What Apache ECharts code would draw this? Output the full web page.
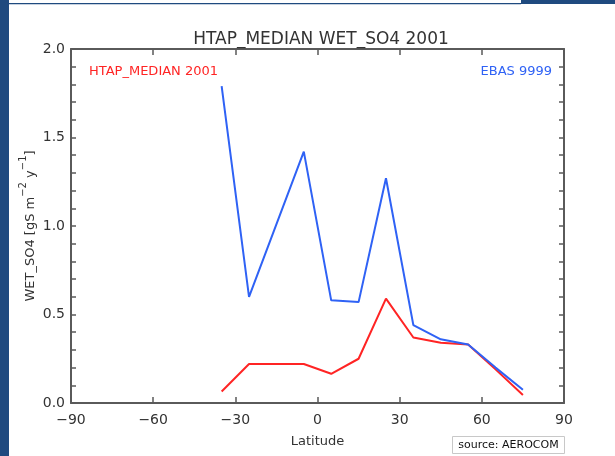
<!DOCTYPE html>
<html>
<head>
<meta charset="utf-8">
<script src="https://cdn.jsdelivr.net/npm/echarts@6/dist/echarts.min.js"></script>
<style>
  html, body { margin: 0; padding: 0; background: #fff; }
  #chart { width: 615px; height: 456px; }
</style>
</head>
<body>
<div id="chart"></div>
<script>
// Latitude band centres (degrees)
const latitudes = [-35, -25, -5, 5, 15, 25, 35, 45, 55, 65, 75];
// Wet SO4 deposition, gS m-2 y-1
const htapMedian = [0.065, 0.22, 0.22, 0.165, 0.25, 0.59, 0.37, 0.34, 0.33, 0.19, 0.045];
const ebas = [1.79, 0.60, 1.42, 0.58, 0.57, 1.27, 0.44, 0.36, 0.33, 0.20, 0.075];
// Axis tick values
const xTicks = [-90, -60, -30, 0, 30, 60, 90];
const yTicks = [0.0, 0.5, 1.0, 1.5, 2.0];

const seriesNames = ['HTAP_MEDIAN 2001', 'EBAS 9999'];
const RED = '#ff2424';
const BLUE = '#2f62f5';
const AXIS = '#5a5a5a';
const TEXT = '#333333';
const FONT = 'DejaVu Sans';

const pairs = vals => latitudes.map((lat, i) => [lat, vals[i]]);

const chart = echarts.init(document.getElementById('chart'), null, { renderer: 'canvas' });

const xBase = {
  type: 'value',
  min: xTicks[0],
  max: xTicks[xTicks.length - 1],
  interval: xTicks[1] - xTicks[0],
  axisLine: { show: true, onZero: false, lineStyle: { color: AXIS, width: 2 } },
  axisTick: { show: true, inside: true, length: 6, lineStyle: { color: AXIS, width: 1.5 } },
  splitLine: { show: false }
};
const yBase = {
  type: 'value',
  min: yTicks[0],
  max: yTicks[yTicks.length - 1],
  interval: yTicks[1] - yTicks[0],
  axisLine: { show: true, onZero: false, lineStyle: { color: AXIS, width: 2 } },
  axisTick: { show: true, inside: true, length: 5, lineStyle: { color: AXIS, width: 1.5 } },
  minorTick: { show: true, splitNumber: 5, length: 5, lineStyle: { color: AXIS, width: 1.5 } },
  splitLine: { show: false },
  minorSplitLine: { show: false }
};

chart.setOption({
  animation: false,
  backgroundColor: '#ffffff',
  textStyle: { fontFamily: FONT },
  title: {
    text: 'HTAP_MEDIAN WET_SO4 2001',
    left: 316,
    top: 26,
    textAlign: 'center',
    textStyle: { fontFamily: FONT, fontSize: 17, fontWeight: 'normal', color: TEXT }
  },
  legend: [
    {
      data: [{ name: seriesNames[0], textStyle: { color: RED } }],
      icon: 'none', itemWidth: 0, itemGap: 0,
      left: 79, top: 60,
      textStyle: { fontFamily: FONT, fontSize: 13 }
    },
    {
      data: [{ name: seriesNames[1], textStyle: { color: BLUE } }],
      icon: 'none', itemWidth: 0, itemGap: 0,
      right: 58, top: 60,
      textStyle: { fontFamily: FONT, fontSize: 13 }
    }
  ],
  grid: { left: 71, right: 51, top: 49, bottom: 53, containLabel: false },
  xAxis: [
    Object.assign({}, xBase, {
      position: 'bottom',
      name: 'Latitude',
      nameLocation: 'middle',
      nameGap: 32,
      nameMoveOverlap: false,
      nameTextStyle: { fontFamily: FONT, fontSize: 13, color: TEXT },
      axisLabel: {
        margin: 10,
        fontFamily: FONT, fontSize: 14, color: TEXT,
        formatter: v => String(v).replace('-', '\u2212')
      }
    }),
    Object.assign({}, xBase, { position: 'top', axisLabel: { show: false } })
  ],
  yAxis: [
    Object.assign({}, yBase, {
      position: 'left',
      name: '{n|WET_SO4 [gS m}{sup|\u22122}{n| y}{sup|\u22121}{n|]}',
      nameLocation: 'middle',
      nameRotate: 90,
      nameGap: 34,
      nameMoveOverlap: false,
      nameTextStyle: {
        fontFamily: FONT, fontSize: 13, color: TEXT,
        rich: {
          n: { fontFamily: FONT, fontSize: 13, color: TEXT, lineHeight: 19, verticalAlign: 'bottom' },
          sup: { fontFamily: FONT, fontSize: 10, color: TEXT, lineHeight: 19, verticalAlign: 'top' }
        }
      },
      axisLabel: {
        margin: 6,
        fontFamily: FONT, fontSize: 14, color: TEXT,
        formatter: v => v.toFixed(1)
      }
    }),
    Object.assign({}, yBase, { position: 'right', axisLabel: { show: false } })
  ],
  series: [
    {
      name: seriesNames[0], type: 'line', data: pairs(htapMedian),
      xAxisIndex: 0, yAxisIndex: 0,
      symbol: 'none', lineStyle: { color: RED, width: 2 }, itemStyle: { color: RED }
    },
    {
      name: seriesNames[1], type: 'line', data: pairs(ebas),
      xAxisIndex: 0, yAxisIndex: 0,
      symbol: 'none', lineStyle: { color: BLUE, width: 2 }, itemStyle: { color: BLUE }
    }
  ],
  graphic: [
    // page frame
    { type: 'rect', shape: { x: 0, y: 0, width: 9, height: 456 }, style: { fill: '#1f4a7f' }, silent: true },
    { type: 'rect', shape: { x: 9, y: 3, width: 512, height: 1.2 }, style: { fill: '#1f4a7f' }, silent: true },
    { type: 'rect', shape: { x: 521, y: 0, width: 94, height: 4 }, style: { fill: '#1f4a7f' }, silent: true },
    // credit box
    {
      type: 'group', left: 452, top: 436,
      children: [
        { type: 'rect', shape: { x: 0, y: 0, width: 112, height: 17 }, style: { fill: '#ffffff', stroke: '#c8c8c8', lineWidth: 1 } },
        { type: 'text', x: 56, y: 9, style: { text: 'source: AEROCOM', fontFamily: FONT, fontSize: 11, fill: '#111111', align: 'center', verticalAlign: 'middle' } }
      ]
    }
  ]
});
</script>
</body>
</html>
